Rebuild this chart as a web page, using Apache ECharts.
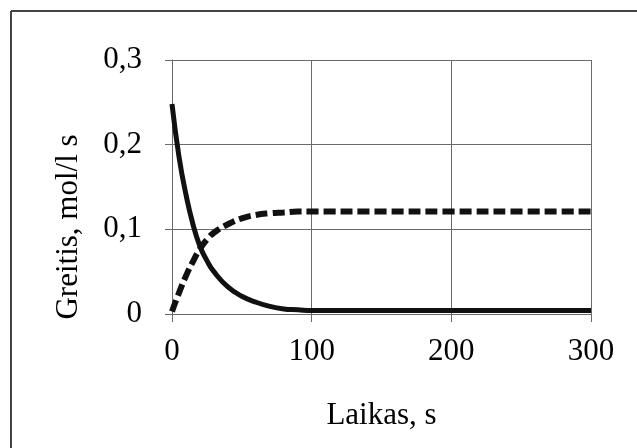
<!DOCTYPE html>
<html>
<head>
<meta charset="utf-8">
<script src="https://cdn.jsdelivr.net/npm/echarts@6/dist/echarts.min.js"></script>
<style>
  html, body { margin: 0; padding: 0; background: #fff; }
  #chart { width: 637px; height: 448px; }
</style>
</head>
<body>
<div id="chart"></div>
<script>
// laikas, s
const times = [0, 5, 10, 15, 20, 25, 30, 40, 50, 60, 70, 80, 90, 100, 150, 200, 250, 300]
// tiesioginė reakcija (ištisinė linija)
const forwardRate = [0.248, 0.186, 0.141, 0.106, 0.08, 0.063, 0.05, 0.032, 0.021, 0.014, 0.009, 0.006, 0.005, 0.004, 0.004, 0.004, 0.004, 0.004]
// atvirkštinė reakcija (punktyrinė linija)
const reverseRate = [0.003, 0.025, 0.045, 0.062, 0.077, 0.088, 0.096, 0.106, 0.113, 0.117, 0.119, 0.12, 0.121, 0.121, 0.121, 0.121, 0.121, 0.121]
const xTicks = [0, 100, 200, 300]
const yTicks = [0, 0.1, 0.2, 0.3]

const font = '"Liberation Serif", "Times New Roman", serif'
const gridColor = '#6a6a6a'

let myChart = echarts.init(document.getElementById('chart'))

const pairs = (ys) => times.map((t, i) => [t, ys[i]])

myChart.setOption({
  backgroundColor: '#fff',
  animation: false,
  grid: { left: 172, right: 46, top: 60, bottom: 134 },
  xAxis: {
    type: 'value',
    min: xTicks[0],
    max: xTicks[xTicks.length - 1],
    interval: 100,
    name: 'Laikas, s',
    nameLocation: 'middle',
    nameGap: 86,
    nameTextStyle: { fontFamily: font, fontSize: 31, color: '#000' },
    axisLine: { lineStyle: { color: gridColor, width: 1 } },
    axisTick: { show: true, length: 8, lineStyle: { color: gridColor } },
    axisLabel: { fontFamily: font, fontSize: 31, color: '#000', margin: 22 },
    splitLine: { show: true, lineStyle: { color: gridColor, width: 1 } }
  },
  yAxis: {
    type: 'value',
    min: yTicks[0],
    max: yTicks[yTicks.length - 1],
    interval: 0.1,
    name: 'Greitis, mol/l s',
    nameLocation: 'middle',
    nameGap: 88,
    nameTextStyle: { fontFamily: font, fontSize: 31, color: '#000', padding: [0, 80, 0, 0] },
    axisLine: { show: true, lineStyle: { color: gridColor, width: 1 } },
    axisTick: { show: true, length: 7, lineStyle: { color: gridColor } },
    axisLabel: {
      fontFamily: font, fontSize: 31, color: '#000', margin: 30,
      formatter: (v) => String(Math.round(v * 10) / 10).replace('.', ',')
    },
    splitLine: { show: true, lineStyle: { color: gridColor, width: 1 } }
  },
  series: [
    {
      name: 'forward',
      type: 'line',
      data: pairs(forwardRate),
      smooth: 0.5,
      showSymbol: false,
      lineStyle: { color: '#111', width: 5 }
    },
    {
      name: 'reverse',
      type: 'line',
      data: pairs(reverseRate),
      smooth: 0.5,
      showSymbol: false,
      lineStyle: { color: '#111', width: 6, type: [12, 5], cap: 'butt' }
    }
  ],
  // rėmelis (tik viršus ir kairė matosi)
  graphic: [
    { type: 'line', shape: { x1: 11, y1: 11, x2: 637, y2: 11 }, style: { stroke: '#444', lineWidth: 2 } },
    { type: 'line', shape: { x1: 11, y1: 11, x2: 11, y2: 448 }, style: { stroke: '#444', lineWidth: 2 } }
  ]
})
</script>
</body>
</html>
